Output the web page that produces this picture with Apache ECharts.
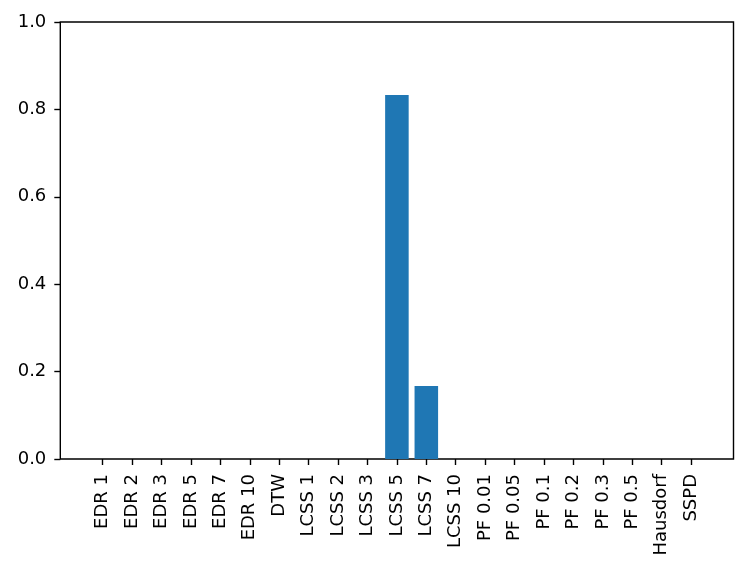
<!DOCTYPE html>
<html>
<head>
<meta charset="utf-8">
<script src="https://cdn.jsdelivr.net/npm/echarts@6/dist/echarts.min.js"></script>
<style>
  html, body { margin: 0; padding: 0; background: #fff; }
  #chart { width: 748px; height: 579px; }
</style>
</head>
<body>
<div id="chart"></div>
<script>
var categories = ['EDR 1', 'EDR 2', 'EDR 3', 'EDR 5', 'EDR 7', 'EDR 10', 'DTW',
  'LCSS 1', 'LCSS 2', 'LCSS 3', 'LCSS 5', 'LCSS 7', 'LCSS 10',
  'PF 0.01', 'PF 0.05', 'PF 0.1', 'PF 0.2', 'PF 0.3', 'PF 0.5', 'Hausdorf', 'SSPD'];
var values = [0, 0, 0, 0, 0, 0, 0, 0, 0, 0, 0.833, 0.167, 0, 0, 0, 0, 0, 0, 0, 0, 0];

var font = 'DejaVu Sans';
var chart = echarts.init(document.getElementById('chart'));

// outer grid = matplotlib axes box, inner grid = bars (inset by the 5% x margin)
chart.setOption({
  animation: false,
  grid: [
    { left: 60.3, top: 22, width: 673.2, height: 437, show: true,
      borderColor: '#000', borderWidth: 1.4, backgroundColor: 'transparent' },
    { left: 87.95, top: 22, width: 617.9, height: 437 }
  ],
  xAxis: [
    { gridIndex: 0, type: 'value', min: 0, max: 1, show: false },
    {
      gridIndex: 1, type: 'category', data: categories,
      axisLine: { show: false },
      axisTick: { show: true, alignWithLabel: true, length: 6,
        lineStyle: { color: '#000', width: 1.4 } },
      axisLabel: { rotate: 90, interval: 0, color: '#000', fontSize: 18,
        fontFamily: font, margin: 15 }
    }
  ],
  yAxis: [
    {
      gridIndex: 0, type: 'value', min: 0, max: 1, interval: 0.2,
      axisLine: { show: false },
      splitLine: { show: false },
      axisTick: { show: true, length: 6, lineStyle: { color: '#000', width: 1.4 } },
      axisLabel: { color: '#000', fontSize: 18, fontFamily: font, margin: 14,
        formatter: function (v) { return v.toFixed(1); } }
    },
    { gridIndex: 1, type: 'value', min: 0, max: 1, show: false }
  ],
  series: [{
    type: 'bar',
    xAxisIndex: 1,
    yAxisIndex: 1,
    data: values,
    barWidth: '80%',
    itemStyle: { color: '#1f77b4' }
  }]
});
</script>
</body>
</html>
